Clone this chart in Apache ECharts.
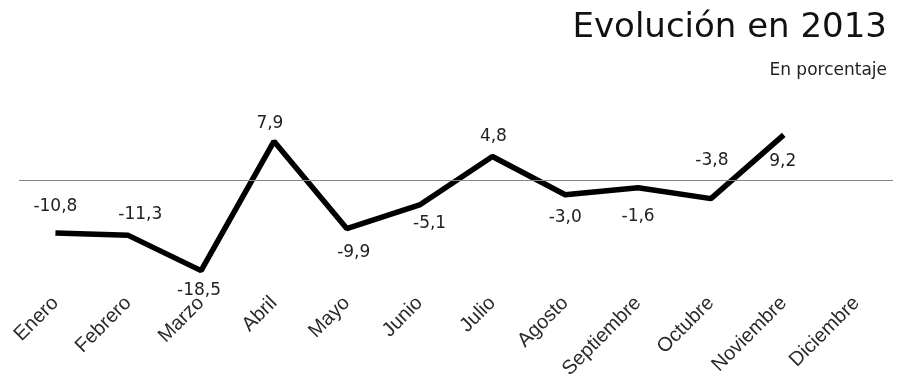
<!DOCTYPE html>
<html>
<head>
<meta charset="utf-8">
<style>
  html, body { margin: 0; padding: 0; background: #fff; }
  #chart { width: 898px; height: 385px; }
</style>
<script src="https://cdn.jsdelivr.net/npm/echarts@6/dist/echarts.min.js"></script>
</head>
<body>
<div id="chart"></div>
<script>
const months = ['Enero', 'Febrero', 'Marzo', 'Abril', 'Mayo', 'Junio', 'Julio',
  'Agosto', 'Septiembre', 'Octubre', 'Noviembre', 'Diciembre'];
const values = [-10.8, -11.3, -18.5, 7.9, -9.9, -5.1, 4.8, -3.0, -1.6, -3.8, 9.2, null];

// where each value label sits relative to its point, [dx, dy] in px
const labelOffsets = [
  [0, -26], [12, -21], [-2, 20], [-4, -18], [7, 24], [10, 19],
  [1, -20], [0, 23], [0, 29], [1, -38], [-1, 27], [0, 0]
];

const fmt = v => v.toFixed(1).replace('.', ',');

const chart = echarts.init(document.getElementById('chart'));
chart.setOption({
  animation: false,
  title: [
    {
      text: 'Evolución en 2013',
      right: 6, top: 6,
      textStyle: { fontFamily: 'DejaVu Sans', fontSize: 34, fontWeight: 'normal', color: '#111' }
    },
    {
      text: 'En porcentaje',
      right: 6, top: 57,
      textStyle: { fontFamily: 'DejaVu Sans', fontSize: 17, fontWeight: 'normal', color: '#222' }
    }
  ],
  grid: { left: 19, right: 5, top: 131, bottom: 107 },
  xAxis: {
    type: 'category',
    data: months,
    axisLine: { show: false },
    axisTick: { show: false },
    axisLabel: {
      interval: 0, rotate: 45, margin: 22,
      fontFamily: 'Liberation Sans', fontSize: 20, color: '#2a2a2a'
    }
  },
  yAxis: {
    type: 'value', min: -20, max: 10,
    show: false, splitLine: { show: false }
  },
  series: [{
    type: 'line',
    data: values.map((v, i) => ({
      value: v,
      label: { offset: labelOffsets[i] }
    })),
    symbol: 'circle',
    symbolSize: 1,
    showSymbol: true,
    itemStyle: { color: 'rgba(0,0,0,0)' },
    connectNulls: false,
    lineStyle: { color: '#000', width: 5.5 },
    label: {
      show: true,
      position: 'inside',
      align: 'center',
      verticalAlign: 'middle',
      fontFamily: 'DejaVu Sans', fontSize: 17, color: '#222',
      formatter: p => (p.value == null ? '' : fmt(p.value))
    },
    markLine: {
      silent: true,
      symbol: 'none',
      label: { show: false },
      lineStyle: { color: '#888', width: 1, type: 'solid' },
      data: [{ yAxis: 0 }]
    }
  }]
});
</script>
</body>
</html>
